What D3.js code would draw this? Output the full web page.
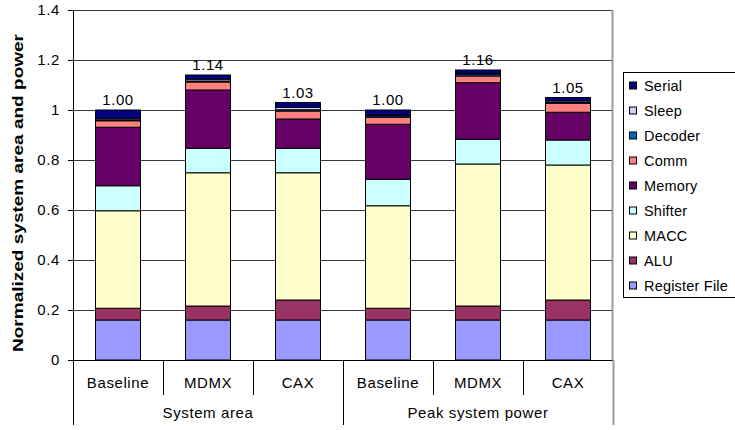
<!DOCTYPE html>
<html>
<head>
<meta charset="utf-8">
<script src="https://cdn.jsdelivr.net/npm/d3@7"></script>
<style>
  html, body { margin: 0; padding: 0; background: #fff; }
  svg text { font-family: "Liberation Sans", Arial, sans-serif; fill: #000; }
</style>
</head>
<body>
<svg id="chart" width="735" height="430"></svg>
<script>
// Configurations along the x axis, grouped into two measurements
const categories = ["Baseline", "MDMX", "CAX", "Baseline", "MDMX", "CAX"];
const groups = ["System area", "Peak system power"];

// Stacked components, bottom to top
const components = ["Register File", "ALU", "MACC", "Shifter", "Memory", "Comm", "Decoder", "Sleep", "Serial"];
const componentColors = ["#9999FF", "#993366", "#FFFFCC", "#CCFFFF", "#660066", "#FF8080", "#0066CC", "#CCCCFF", "#000080"];

// Normalized contribution of each component, one value per configuration
const registerFile = [0.160, 0.160, 0.160, 0.160, 0.160, 0.160];
const alu          = [0.047, 0.056, 0.080, 0.047, 0.056, 0.080];
const macc         = [0.390, 0.533, 0.509, 0.410, 0.568, 0.540];
const shifter      = [0.100, 0.098, 0.098, 0.106, 0.099, 0.100];
const memory       = [0.234, 0.233, 0.117, 0.220, 0.226, 0.111];
const comm         = [0.026, 0.032, 0.032, 0.028, 0.027, 0.036];
const decoder      = [0.004, 0.004, 0.005, 0.006, 0.007, 0.003];
const sleep        = [0.006, 0.007, 0.010, 0.003, 0.004, 0.006];
const serial       = [0.033, 0.017, 0.019, 0.020, 0.013, 0.014];

const yTicks = [0, 0.2, 0.4, 0.6, 0.8, 1, 1.2, 1.4];

const seriesValues = [registerFile, alu, macc, shifter, memory, comm, decoder, sleep, serial];
const rows = categories.map((c, i) => {
  const r = { index: i, category: c };
  components.forEach((k, j) => { r[k] = seriesValues[j][i]; });
  return r;
});

const svg = d3.select("#chart");
const plotLeft = 73, plotRight = 613, plotTop = 10, plotBottom = 360;

const x = d3.scaleBand().domain(d3.range(categories.length)).range([plotLeft, plotRight])
  .paddingInner(0.5).paddingOuter(0.25);
const y = d3.scaleLinear().domain([0, 1.4]).range([plotBottom, plotTop]);
const color = d3.scaleOrdinal().domain(components).range(componentColors);

// Gridlines
svg.append("g").selectAll("line").data(yTicks.filter(d => d > 0)).join("line")
  .attr("x1", plotLeft).attr("x2", plotRight)
  .attr("y1", d => Math.round(y(d)) + 0.5).attr("y2", d => Math.round(y(d)) + 0.5)
  .attr("stroke", "#3a3a3a").attr("stroke-width", 1);

// Plot area right border
svg.append("line").attr("x1", plotRight - 0.5).attr("x2", plotRight - 0.5)
  .attr("y1", plotTop).attr("y2", plotBottom)
  .attr("stroke", "#9a9a9a").attr("stroke-width", 2);

// Stacked bars
const stacked = d3.stack().keys(components)(rows);
svg.append("g").selectAll("g").data(stacked).join("g")
  .attr("fill", d => color(d.key))
  .selectAll("rect").data(d => d).join("rect")
  .attr("x", d => x(d.data.index))
  .attr("width", x.bandwidth())
  .attr("y", d => y(d[1]))
  .attr("height", d => y(d[0]) - y(d[1]))
  .attr("stroke", "#000").attr("stroke-width", 1);

// Totals above each bar
svg.append("g").selectAll("text").data(rows).join("text")
  .attr("x", d => x(d.index) + x.bandwidth() / 2)
  .attr("y", d => y(d3.sum(components, k => d[k])) - 5)
  .attr("text-anchor", "middle")
  .style("font-size", "15px").style("letter-spacing", "0.6px")
  .text(d => d3.format(".2f")(d3.sum(components, k => d[k])));

// Y axis
const yAxis = svg.append("g").attr("transform", `translate(${plotLeft},0)`)
  .call(d3.axisLeft(y).tickValues(yTicks).tickSize(5).tickPadding(8).tickFormat(d3.format("~g")));
yAxis.select(".domain").attr("stroke", "#000");
yAxis.selectAll(".tick line").attr("stroke", "#000");
yAxis.selectAll("text").style("font-size", "15px").style("letter-spacing", "0.6px")
  .style("font-family", "'Liberation Sans', Arial, sans-serif");

// X axis baseline
svg.append("line").attr("x1", plotLeft).attr("x2", plotRight)
  .attr("y1", plotBottom + 0.5).attr("y2", plotBottom + 0.5).attr("stroke", "#000");

// Category separators below the axis
const step = x.step();
const sepX = d3.range(categories.length + 1).map(i => plotLeft + i * step);
svg.append("g").selectAll("line").data(sepX).join("line")
  .attr("x1", d => Math.round(d) + 0.5).attr("x2", d => Math.round(d) + 0.5)
  .attr("y1", plotBottom)
  .attr("y2", (d, i) => (i % 3 === 0 ? 425 : 395))
  .attr("stroke", (d, i) => (i === categories.length ? "#9a9a9a" : "#000"))
  .attr("stroke-width", (d, i) => (i === categories.length ? 2 : 1));

svg.append("g").selectAll("text").data(rows).join("text")
  .attr("x", d => x(d.index) + x.bandwidth() / 2)
  .attr("y", 388)
  .attr("text-anchor", "middle")
  .style("font-size", "15px").style("letter-spacing", "0.6px")
  .text(d => d.category);

svg.append("g").selectAll("text").data(groups).join("text")
  .attr("x", (d, i) => plotLeft + (i * 3 + 1.5) * step)
  .attr("y", 418)
  .attr("text-anchor", "middle")
  .style("font-size", "15px").style("letter-spacing", "0.6px")
  .text(d => d);

// Y axis title
svg.append("text")
  .attr("transform", `translate(23,${(plotTop + plotBottom) / 2 + 8}) rotate(-90)`)
  .attr("text-anchor", "middle")
  .style("font-size", "14px").style("font-weight", "bold")
  .attr("textLength", 318).attr("lengthAdjust", "spacingAndGlyphs")
  .text("Normalized system area and power");

// Legend, top entry first
const legend = svg.append("g").attr("transform", "translate(623,72)");
legend.append("rect").attr("x", 0.5).attr("y", 0.5).attr("width", 130).attr("height", 225)
  .attr("fill", "#fff").attr("stroke", "#000");
const legendItems = components.slice().reverse();
const li = legend.selectAll("g.item").data(legendItems).join("g")
  .attr("class", "item")
  .attr("transform", (d, i) => `translate(0,${13.5 + i * 25})`);
li.append("rect").attr("x", 6.5).attr("y", -3.5).attr("width", 7).attr("height", 7)
  .attr("fill", d => color(d)).attr("stroke", "#000");
li.append("text").attr("x", 21).attr("y", 5)
  .style("font-size", "14.5px").style("letter-spacing", "0.2px")
  .text(d => d);
</script>
</body>
</html>
